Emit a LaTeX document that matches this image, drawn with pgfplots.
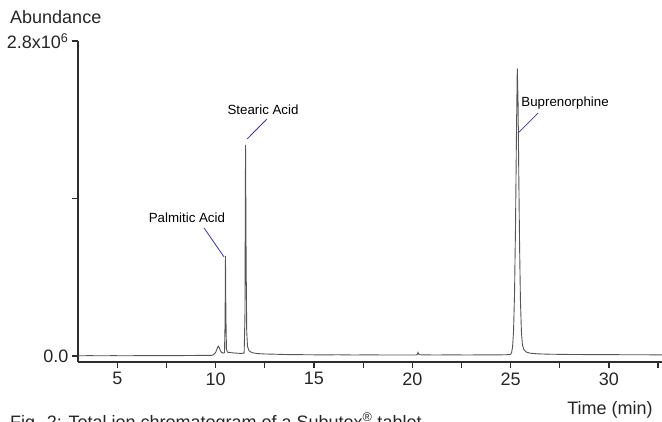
\documentclass[border=0pt]{standalone}
\usepackage{fontspec}
\setmainfont{Liberation Sans}
\usepackage{pgfplots}
\pgfplotsset{compat=1.18}
\definecolor{axisgray}{RGB}{45,45,45}
\definecolor{tracegray}{RGB}{85,85,85}
\definecolor{leaderblue}{RGB}{55,55,165}

\begin{document}
\begin{tikzpicture}
\begin{axis}[
    at={(78pt,59pt)}, anchor=south west,
    scale only axis, width=584pt, height=321pt,
    xmin=3, xmax=32.7, ymin=-0.0533, ymax=2.8,
    axis lines=left,
    axis line style={-, line width=1.2pt, color=axisgray},
    tick align=outside,
    major tick length=6pt, minor tick length=6pt,
    every tick/.style={line width=1.2pt, color=axisgray},
    xtick={5,10,...,30},
    minor xtick={7.5,12.5,...,32.5},
    ytick={0,1.4,2.8},
    yticklabels={0.0,,{2.8x10\textsuperscript{6}}},
    scaled y ticks=false,
    /pgf/number format/assume math mode=true,
    tick label style={font=\fontsize{18}{20}\selectfont, color=black!85},
    xticklabel style={yshift=-1pt},
]
%% Total ion chromatogram (abundance in units of 10^6)
\addplot[color=tracegray, line width=0.9pt] coordinates {
  (3.0,0.002)(3.6,0.003)(4.2,0.002)(4.8,0.003)(5.4,0.002)(6.0,0.003)
  (6.6,0.004)(7.2,0.003)(7.8,0.004)(8.4,0.004)(9.0,0.005)(9.5,0.005)
  (9.80,0.006)(9.90,0.012)(10.00,0.032)(10.06,0.060)(10.13,0.088)
  (10.18,0.076)(10.24,0.048)(10.30,0.032)(10.38,0.026)(10.45,0.030)
  (10.48,0.300)(10.50,0.889)(10.52,0.380)(10.55,0.060)(10.60,0.034)
  (10.80,0.029)(11.00,0.026)(11.30,0.023)(11.45,0.026)
  (11.49,0.350)(11.52,1.876)(11.55,0.850)(11.58,0.220)(11.62,0.085)
  (11.70,0.046)(11.85,0.030)(12.10,0.022)(12.50,0.018)(13.00,0.016)
  (13.60,0.013)(14.20,0.012)(14.80,0.011)(15.50,0.010)(16.20,0.011)
  (17.00,0.009)(17.80,0.010)(18.60,0.009)(19.40,0.009)(20.15,0.009)
  (20.24,0.010)(20.29,0.032)(20.34,0.012)(20.50,0.010)(21.20,0.009)
  (22.00,0.010)(22.80,0.009)(23.60,0.010)(24.40,0.010)(24.90,0.012)
  (25.00,0.015)(25.05,0.030)(25.10,0.080)(25.15,0.220)(25.20,0.550)
  (25.25,1.150)(25.30,2.000)(25.34,2.557)(25.38,2.250)(25.42,1.550)
  (25.46,0.950)(25.50,0.500)(25.55,0.220)(25.60,0.100)(25.68,0.055)
  (25.80,0.035)(26.00,0.025)(26.40,0.019)(27.00,0.016)(27.80,0.014)
  (28.60,0.013)(29.40,0.012)(30.20,0.012)(31.00,0.011)(31.80,0.011)
  (32.70,0.010)
};
%% Peak labels with leader lines
\node[font=\fontsize{13.3}{15}\selectfont] at (axis cs:8.54,1.227) {Palmitic Acid};
\draw[leaderblue, line width=0.8pt] (axis cs:9.41,1.138) -- (axis cs:10.43,0.880);
\node[font=\fontsize{13.3}{15}\selectfont] at (axis cs:12.41,2.187) {Stearic Acid};
\draw[leaderblue, line width=0.8pt] (axis cs:12.61,2.107) -- (axis cs:11.60,1.929);
\node[font=\fontsize{13.3}{15}\selectfont] at (axis cs:27.77,2.249) {Buprenorphine};
\draw[leaderblue, line width=0.8pt] (axis cs:26.40,2.160) -- (axis cs:25.38,1.982);
\end{axis}
\node[anchor=west, inner sep=0pt, font=\fontsize{18}{20}\selectfont, color=black!85] at (10pt,404pt) {Abundance};
\node[inner sep=0pt, font=\fontsize{18}{20}\selectfont, color=black!85] at (610pt,11pt) {Time (min)};
\node[anchor=base west, inner sep=0pt, font=\fontsize{18}{20}\selectfont, color=black!85] at (10pt,-7pt) {Fig. 2: Total ion chromatogram of a Subutex\textsuperscript{®} tablet};
\pgfresetboundingbox
\useasboundingbox (0pt,0pt) rectangle (662pt,421pt);
\end{tikzpicture}
\end{document}
